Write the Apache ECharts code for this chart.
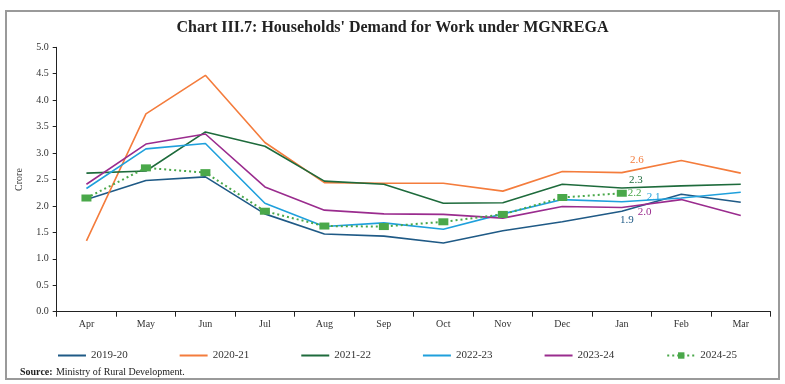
<!DOCTYPE html>
<html><head><meta charset="utf-8">
<script src="https://cdn.jsdelivr.net/npm/echarts@6/dist/echarts.min.js"></script>
<style>html,body{margin:0;padding:0;background:#fff}#c{width:785px;height:384px}</style>
</head><body><div id="c"></div>
<script>
const months = ['Apr','May','Jun','Jul','Aug','Sep','Oct','Nov','Dec','Jan','Feb','Mar'];
const yTicks = [0,0.5,1.0,1.5,2.0,2.5,3.0,3.5,4.0,4.5,5.0];
const s2019 = [2.12,2.48,2.55,1.85,1.47,1.43,1.30,1.53,1.70,1.90,2.22,2.07];
const s2020 = [1.34,3.74,4.47,3.20,2.44,2.43,2.43,2.28,2.65,2.63,2.86,2.62];
const s2021 = [2.62,2.66,3.40,3.13,2.47,2.41,2.05,2.06,2.41,2.34,2.38,2.41];
const s2022 = [2.33,3.08,3.18,2.05,1.61,1.68,1.56,1.85,2.12,2.08,2.15,2.26];
const s2023 = [2.41,3.17,3.36,2.36,1.92,1.85,1.84,1.77,1.99,1.97,2.12,1.82];
const s2024 = [2.15,2.72,2.63,1.90,1.62,1.61,1.70,1.84,2.16,2.24,null,null];
const names = ['2019-20','2020-21','2021-22','2022-23','2023-24','2024-25'];
const colors = ['#1f5a86','#f47c3c','#1e6b3c','#1fa0dc','#9a2c8e','#4aa84a'];
const labelIdx = 9;
const labelCfg = [
  {position:'bottom', offset:[5,-2]},
  {position:'top', offset:[15,-2]},
  {position:'top', offset:[14,3]},
  {position:'right', offset:[20,-5]},
  {position:'right', offset:[11,5]},
  {position:'right', offset:[-4,0]}
];
const font = '"Liberation Serif", "DejaVu Serif", serif';
function mk(arr, i){
  return arr.map((v,k)=> k===labelIdx ? {value:v, label:Object.assign({show:true, color:colors[i], fontSize:11, fontFamily:font, formatter:(p)=>p.value.toFixed(1)}, labelCfg[i])} : v);
}
const allS = [s2019,s2020,s2021,s2022,s2023,s2024];
const series = allS.map((arr,i)=>{
  const base = {name:names[i], type:'line', data:mk(arr,i), color:colors[i], symbol:'circle', symbolSize:0, showSymbol:true, lineStyle:{width:1.6, color:colors[i]}, z: i===5?10:2};
  if(i===5){
    base.symbol='rect'; base.symbolSize=[10,7];
    base.itemStyle={color:colors[5]};
    base.lineStyle={width:2, type:[2,3], color:colors[5]};
  }
  return base;
});
const lineIcon = 'path://M0,0L28,0L28,0.01Z M0,3L28,3L28,5L0,5Z M0,8L28,8L28,8.01Z';
const chart = echarts.init(document.getElementById('c'), null, {renderer:'canvas'});
chart.setOption({
  animation:false,
  title:{text:"Chart III.7: Households' Demand for Work under MGNREGA", left:'center', top:15, textStyle:{fontFamily:font, fontWeight:'bold', fontSize:16, color:'#222'}},
  graphic:[
    {type:'rect', shape:{x:6,y:11,width:773,height:368}, style:{fill:'none', stroke:'#9a9a9a', lineWidth:2}, silent:true},
    {type:'text', left:20, top:366, style:{rich:{b:{fontWeight:'bold', fontFamily:font, fontSize:10, fill:'#222'}, n:{fontFamily:font, fontSize:10, fill:'#222'}}, text:'{b|Source:} {n|Ministry of Rural Development.}'}}
  ],
  grid:{left:56.7, right:14.5, top:47.3, bottom:72.3},
  legend:{data:names.map((n,i)=> i<5 ? {name:n, icon:lineIcon} : {name:n}), left:53, top:345, itemWidth:28, itemHeight:8, itemGap:52, textStyle:{fontFamily:font, fontSize:11, color:'#333'}},
  xAxis:{type:'category', data:months, boundaryGap:true,
    axisLine:{lineStyle:{color:'#222'}}, axisTick:{show:true, length:5, lineStyle:{color:'#222'}},
    axisLabel:{fontFamily:font, fontSize:10, color:'#333', margin:8}},
  yAxis:{type:'value', min:0, max:5, interval:0.5, name:'Crore', nameLocation:'middle', nameGap:32, nameRotate:90,
    nameTextStyle:{fontFamily:font, fontSize:10, color:'#333'},
    axisLine:{show:true, lineStyle:{color:'#222'}}, axisTick:{show:true, length:4, lineStyle:{color:'#222'}},
    splitLine:{show:false},
    axisLabel:{fontFamily:font, fontSize:10, color:'#333', formatter:(v)=>v.toFixed(1)}},
  series: series
});
</script></body></html>
